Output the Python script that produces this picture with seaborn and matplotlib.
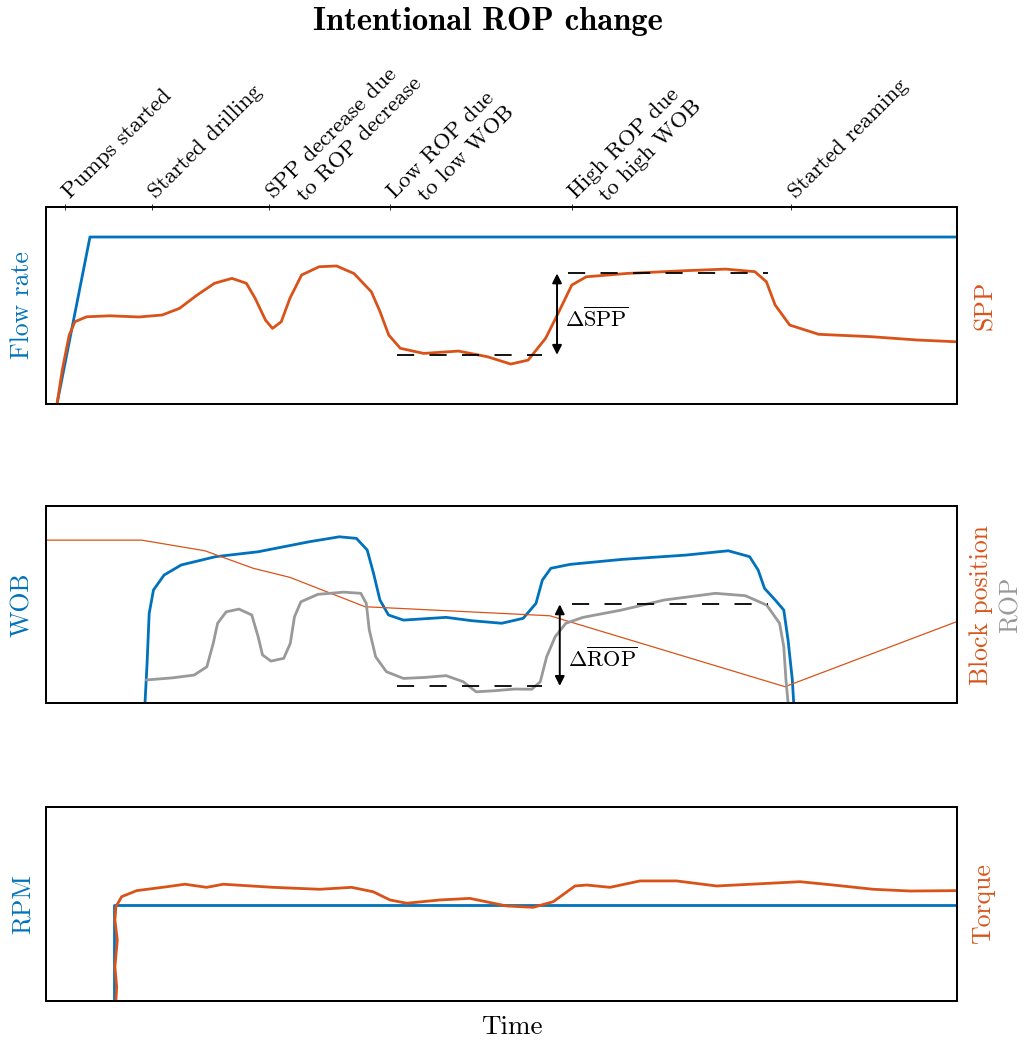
import matplotlib
matplotlib.use("Agg")
import matplotlib.pyplot as plt
import seaborn as sns

sns.set_theme(style="white")
plt.rcParams["font.family"] = ["cmr10", "DejaVu Serif"]
plt.rcParams["mathtext.fontset"] = "cm"
plt.rcParams["axes.unicode_minus"] = False
plt.rcParams["text.color"] = "black"
plt.rcParams["axes.labelcolor"] = "black"

BLUE = "#0072BD"
ORANGE = "#D95319"
GREY = "#999999"

# Events annotated along the top of the first panel
event_times = [2.1, 11.6, 24.5, 37.8, 57.7, 81.8]
event_labels = ["Pumps started", "Started drilling",
                "SPP decrease due\nto ROP decrease",
                "Low ROP due\nto low WOB",
                "High ROP due\nto high WOB",
                "Started reaming"]

# Panel 1: flow rate and stand-pipe pressure (relative units)
flow_t = [1.21, 4.83, 100.0]
flow_v = [0.0, 84.8, 84.8]

spp_t = [1.21, 1.79, 2.55, 3.18, 4.47, 7.01, 10.21, 12.76, 14.67, 16.58, 18.5,
         20.41, 22.0, 22.96, 24.1, 24.87, 25.83, 26.78, 28.06, 29.98, 31.89,
         33.8, 35.72, 36.67, 37.63, 38.9, 41.46, 45.28, 48.47, 51.02, 52.93,
         54.85, 56.13, 57.72, 59.31, 63.78, 70.15, 74.62, 77.81, 79.08, 80.04,
         81.64, 84.82, 90.56, 95.66, 100.0]
spp_v = [0.0, 17.3, 35.0, 41.8, 44.3, 44.8, 44.2, 45.2, 48.6, 55.3, 61.3,
         63.8, 61.3, 53.7, 42.6, 38.4, 41.8, 53.7, 65.5, 69.7, 70.1,
         66.3, 57.0, 46.9, 35.0, 28.3, 25.7, 26.9, 24.0, 20.3, 22.3,
         33.4, 45.2, 60.4, 64.6, 66.3, 67.7, 68.5, 67.2, 62.1, 50.3,
         40.1, 35.4, 34.2, 32.5, 31.6]

spp_low, spp_low_span = 25.0, (38.5, 54.4)
spp_high, spp_high_span = 66.3, (57.3, 79.3)
spp_arrow_t = 56.1
spp_label_v = 43.5

# Panel 2: weight on bit, rate of penetration and block position
wob_t = [10.87, 11.1, 11.33, 11.8, 12.97, 14.85, 18.61, 23.29, 28.92, 32.21, 34.08,
         35.26, 35.96, 36.66, 37.6, 39.24, 43.93, 46.75, 50.03, 52.38, 53.79,
         54.49, 55.42, 57.54, 63.17, 70.21, 74.9, 77.24, 78.18, 78.88, 80.05,
         80.99, 81.46, 81.93, 82.08]
wob_v = [0.0, 20.2, 45.5, 57.4, 65.0, 70.1, 74.3, 76.8, 81.9, 84.4, 83.6,
         77.7, 65.8, 52.3, 44.7, 42.1, 43.5, 41.8, 40.5, 43.0, 50.6,
         62.4, 68.4, 70.4, 72.9, 75.1, 77.3, 74.3, 67.5, 58.2, 52.3,
         47.2, 32.0, 11.7, 0.0]

rop_t = [11.0, 13.91, 16.26, 17.66, 18.36, 18.84, 19.78, 21.19, 22.59, 23.29, 23.77,
         24.7, 26.1, 26.82, 27.28, 27.98, 29.86, 32.68, 34.56, 35.16, 35.49,
         36.19, 37.37, 39.24, 41.59, 43.93, 45.81, 47.22, 49.09, 51.44, 53.32,
         54.26, 54.96, 55.9, 57.07, 58.95, 63.17, 67.86, 73.49, 76.77, 79.12,
         80.53, 80.99, 81.23, 81.46]
rop_v = [11.7, 12.8, 14.2, 18.4, 30.3, 40.5, 46.3, 47.7, 44.7, 33.7, 24.4,
         21.3, 22.7, 30.3, 43.8, 51.4, 55.2, 56.3, 55.7, 50.6, 37.1,
         23.5, 15.9, 12.5, 13.0, 13.9, 10.8, 5.7, 6.2, 7.1, 7.0,
         10.8, 23.5, 33.7, 40.5, 43.5, 47.2, 52.3, 55.7, 54.5, 49.7,
         40.5, 28.6, 11.7, 0.2]

block_t = [0.0, 10.5, 17.45, 22.76, 26.78, 35.02, 55.32, 81.12, 99.97]
block_v = [82.7, 82.7, 77.3, 68.4, 63.8, 48.9, 44.3, 8.3, 41.3]

rop_low, rop_low_span = 8.7, (38.5, 54.4)
rop_high, rop_high_span = 50.1, (57.7, 79.3)
rop_arrow_t = 56.4
rop_label_v = 22.3

# Panel 3: rotary speed and torque
rpm_t = [7.46, 7.46, 100.0]
rpm_v = [0.0, 49.5, 49.5]

torque_t = [7.68, 7.76, 7.57, 7.83, 7.57, 7.68, 8.31, 9.96, 13.25, 15.26, 17.64,
            19.46, 24.95, 30.08, 33.56, 35.93, 37.76, 39.59, 43.25, 46.54, 50.57,
            53.49, 55.69, 58.07, 59.35, 61.91, 65.2, 69.23, 73.62, 82.77, 86.42,
            90.81, 94.84, 99.97]
torque_v = [0.0, 7.4, 17.7, 31.4, 41.8, 48.6, 53.8, 56.9, 58.9, 60.2, 58.6,
            60.2, 58.6, 57.6, 58.6, 56.3, 52.1, 50.4, 52.1, 52.9, 49.0,
            48.3, 51.2, 59.3, 59.8, 58.6, 61.9, 61.9, 59.3, 61.5, 59.8,
            57.6, 56.7, 56.9]

TICK_FS = 16.3
LABEL_FS = 18.5
LW = 2.0

fig = plt.figure(figsize=(10.26, 10.4), dpi=100)
left, width = 0.0448, 0.8879
ax1 = fig.add_axes([left, 0.6115, width, 0.1894])
ax2 = fig.add_axes([left, 0.3240, width, 0.1894])
ax3 = fig.add_axes([left, 0.0375, width, 0.1865])


def style_pair(ax, axr):
    for a in (ax, axr):
        a.set_xlim(0, 100)
        a.set_ylim(0, 100)
        a.set_yticks([])
        a.set_ylabel("")
        a.set_xlabel("")
        for sp in a.spines.values():
            sp.set_color("black")
            sp.set_linewidth(1.3)
    ax.set_xticks([])


def line(ax, t, v, color, lw=LW):
    sns.lineplot(x=t, y=v, ax=ax, sort=False, estimator=None, color=color,
                 linewidth=lw, legend=False)


def delta_marker(ax, low, low_span, high, high_span, arrow_t, label_v, text):
    ax.hlines([low, high], [low_span[0], high_span[0]], [low_span[1], high_span[1]],
              colors="black", linewidth=1.3, linestyles=[(0, (9.5, 8.5))])
    ax.annotate("", xy=(arrow_t, high), xytext=(arrow_t, low),
                arrowprops=dict(arrowstyle="<|-|>", color="black", lw=1.4,
                                mutation_scale=14, shrinkA=0, shrinkB=0))
    ax.text(arrow_t + 0.9, label_v, text, fontsize=16,
            ha="left", va="center", color="black")


def left_label(ax, text, color):
    ax.set_ylabel(text, color=color, fontsize=LABEL_FS)
    ax.yaxis.label.set_horizontalalignment("center")
    ax.yaxis.label.set_verticalalignment("center")
    ax.yaxis.set_label_coords(-0.026, 0.5)


def right_label(axr, text, color, xpos):
    axr.yaxis.set_label_position("right")
    axr.set_ylabel(text, color=color, fontsize=LABEL_FS)
    axr.yaxis.label.set_horizontalalignment("center")
    axr.yaxis.label.set_verticalalignment("center")
    axr.yaxis.set_label_coords(xpos, 0.5)


# --- Panel 1 -----------------------------------------------------------
ax1r = ax1.twinx()
line(ax1, flow_t, flow_v, BLUE)
line(ax1r, spp_t, spp_v, ORANGE)
style_pair(ax1, ax1r)
delta_marker(ax1r, spp_low, spp_low_span, spp_high, spp_high_span, spp_arrow_t,
             spp_label_v, r"$\Delta\overline{\mathrm{SPP}}$")

# event markers on the top edge, with slanted captions
ax1.set_xticks(event_times)
ax1.set_xticklabels([])
ax1.tick_params(axis="x", which="major", top=True, bottom=False, labeltop=False,
                labelbottom=False, direction="inout", length=5, width=0.7,
                color="#333333")
LINE_STEP = 17.3   # distance between caption lines (points)
LINE_INDENT = 14.0  # indent of continuation lines (points)
for t, lab in zip(event_times, event_labels):
    for i, ln in enumerate(lab.split("\n")):
        along = LINE_INDENT if i else 0.0
        perp = LINE_STEP * i
        dx = 3.5 + (along + perp) * 0.7071
        dy = 5.9 + (along - perp) * 0.7071
        ax1.annotate(ln, xy=(t, 1.0), xycoords=ax1.get_xaxis_transform(),
                     xytext=(dx, dy), textcoords="offset points",
                     rotation=45, rotation_mode="anchor", ha="left",
                     va="baseline", fontsize=TICK_FS, color="black",
                     annotation_clip=False)

left_label(ax1, "Flow rate", BLUE)
right_label(ax1r, "SPP", ORANGE, 1.031)

# --- Panel 2 -----------------------------------------------------------
ax2r = ax2.twinx()
line(ax2, wob_t, wob_v, BLUE)
line(ax2r, block_t, block_v, ORANGE, lw=0.9)
line(ax2r, rop_t, rop_v, GREY)
style_pair(ax2, ax2r)
delta_marker(ax2r, rop_low, rop_low_span, rop_high, rop_high_span, rop_arrow_t,
             rop_label_v, r"$\Delta\overline{\mathrm{ROP}}$")

left_label(ax2, "WOB", BLUE)
right_label(ax2r, "Block position", ORANGE, 1.026)
ax2r.text(1.059, 0.5, "ROP", color=GREY, fontsize=LABEL_FS, rotation=90,
          ha="center", va="center", transform=ax2r.transAxes)

# --- Panel 3 -----------------------------------------------------------
ax3r = ax3.twinx()
line(ax3, rpm_t, rpm_v, BLUE)
line(ax3r, torque_t, torque_v, ORANGE)
style_pair(ax3, ax3r)

left_label(ax3, "RPM", BLUE)
right_label(ax3r, "Torque", ORANGE, 1.029)
ax3.set_xlabel("Time", fontsize=19.5, va="center", ha="center", color="black")
ax3.xaxis.set_label_coords(0.5115, -0.134)

fig.suptitle("Intentional ROP change", x=488 / 1026, y=1 - 21 / 1040,
             va="center", ha="center", fontsize=23.5, fontfamily="cmb10",
             color="black")

fig.savefig("out.png", dpi=100)
